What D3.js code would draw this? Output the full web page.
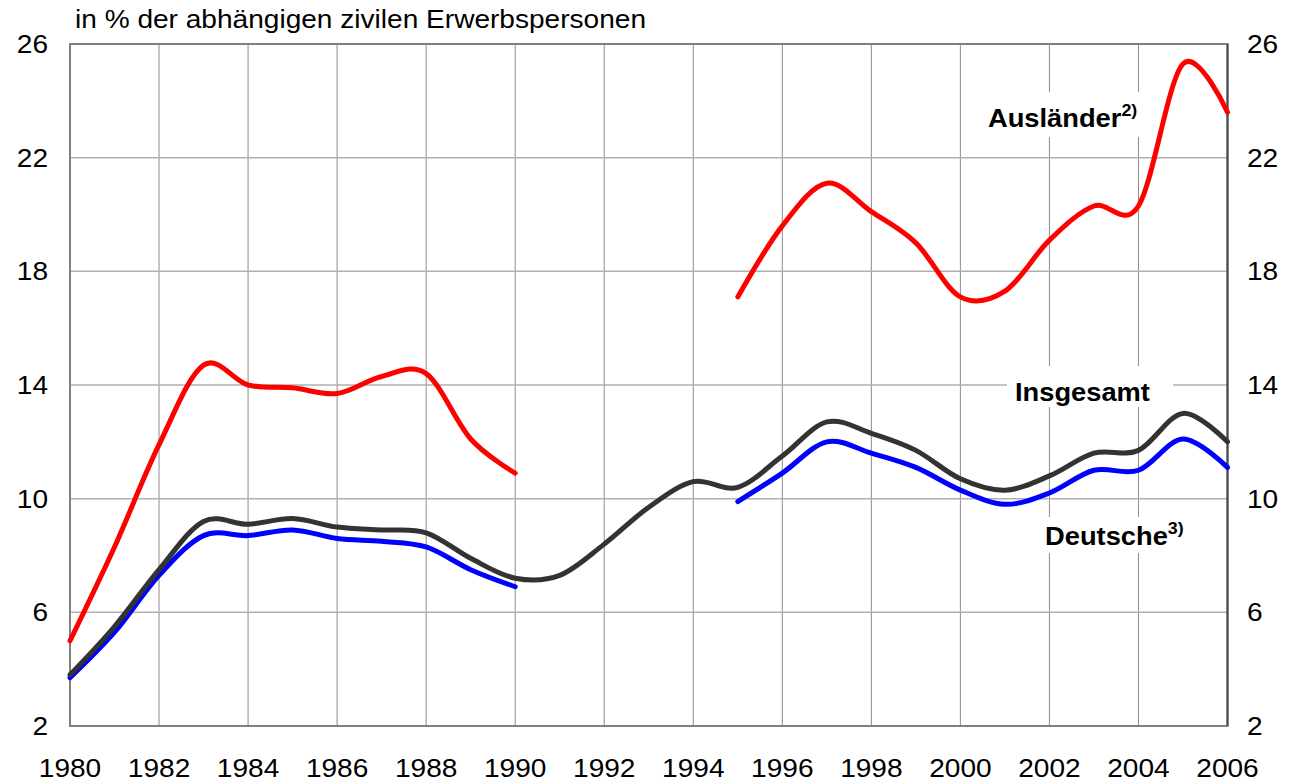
<!DOCTYPE html>
<html>
<head>
<meta charset="utf-8">
<script src="https://cdn.jsdelivr.net/npm/d3@7"></script>
<style>
  body { margin: 0; background: #fff; }
  text { font-family: "Liberation Sans", Arial, sans-serif; fill: #000; }
</style>
</head>
<body>
<svg id="chart" width="1289" height="782"></svg>
<script>
//////////////////////////////////////////////////////////////
// DATA //////////////////////////////////////////////////////
var years = [1980,1981,1982,1983,1984,1985,1986,1987,1988,1989,1990,1991,1992,
             1993,1994,1995,1996,1997,1998,1999,2000,2001,2002,2003,2004,2005,2006];
var insgesamt  = [3.8,5.5,7.5,9.2,9.1,9.3,9.0,8.9,8.8,7.9,7.2,7.3,8.4,
                  9.7,10.6,10.4,11.5,12.7,12.3,11.7,10.7,10.3,10.8,11.6,11.7,13.0,12.0];
var deutsche   = [3.7,5.3,7.3,8.7,8.7,8.9,8.6,8.5,8.3,7.5,6.9,null,null,
                  null,null,9.9,10.9,12.0,11.6,11.1,10.3,9.8,10.2,11.0,11.0,12.1,11.1];
var auslaender = [5.0,8.3,11.9,14.7,14.0,13.9,13.7,14.3,14.4,12.1,10.9,null,null,
                  null,null,17.1,19.6,21.1,20.1,19.0,17.1,17.3,19.1,20.3,20.3,25.3,23.6];
var yTicks = [2,6,10,14,18,22,26];
var xTicks = [1980,1982,1984,1986,1988,1990,1992,1994,1996,1998,2000,2002,2004,2006];

//////////////////////////////////////////////////////////////
// SETUP /////////////////////////////////////////////////////
var plotLeft = 70, plotRight = 1227.5, plotTop = 44, plotBottom = 726;
var svg = d3.select("#chart");
var xScale = d3.scaleLinear().domain([1980, 2006]).range([plotLeft, plotRight]);
var yScale = d3.scaleLinear().domain([2, 26]).range([plotBottom, plotTop]);

// text in the original is a bit wider than Arial, so stretch it
function placeText(sel, x, y, sx){
  sel.attr("transform", "translate(" + x + "," + y + ") scale(" + sx + ",1)");
  return sel;
}

// GRIDLINES
svg.append("g").selectAll("line.vgrid")
  .data(xTicks.filter(function(d){ return d > 1980 && d < 2006; }))
  .enter().append("line")
  .attr("x1", function(d){ return xScale(d); })
  .attr("x2", function(d){ return xScale(d); })
  .attr("y1", plotTop).attr("y2", plotBottom)
  .attr("stroke", "#8c8c8c").attr("stroke-width", 1);

svg.append("g").selectAll("line.hgrid")
  .data(yTicks.filter(function(d){ return d > 2 && d < 26; }))
  .enter().append("line")
  .attr("x1", plotLeft).attr("x2", plotRight)
  .attr("y1", function(d){ return yScale(d); })
  .attr("y2", function(d){ return yScale(d); })
  .attr("stroke", "#b0b0b0").attr("stroke-width", 1.5);

// FRAME
svg.append("rect")
  .attr("x", plotLeft).attr("y", plotTop)
  .attr("width", plotRight - plotLeft).attr("height", plotBottom - plotTop)
  .attr("fill", "none").attr("stroke", "#808080").attr("stroke-width", 2);
svg.append("line")
  .attr("x1", plotRight).attr("x2", plotRight).attr("y1", plotTop).attr("y2", plotBottom)
  .attr("stroke", "#4a4a4a").attr("stroke-width", 2);

// AXIS LABELS
yTicks.forEach(function(d){
  placeText(svg.append("text").text(d), 48, yScale(d) + 9, 1.08)
    .attr("text-anchor", "end").style("font-size", "26px");
  placeText(svg.append("text").text(d), 1247, yScale(d) + 9, 1.08)
    .attr("text-anchor", "start").style("font-size", "26px");
});
xTicks.forEach(function(d){
  placeText(svg.append("text").text(d), xScale(d), 777, 1.08)
    .attr("text-anchor", "middle").style("font-size", "26px");
});

placeText(svg.append("text").text("in % der abhängigen zivilen Erwerbspersonen"), 75, 28, 1.08)
  .style("font-size", "26px");

// SERIES LABELS (white boxes break the grid)
var seriesLabels = [
  {name: "Ausländer", sup: "2)", x: 988, y: 127, box: [980, 92, 1148, 137]},
  {name: "Insgesamt", sup: "",   x: 1015, y: 401, box: [1007, 366, 1173, 407]},
  {name: "Deutsche",  sup: "3)", x: 1045, y: 545, box: [1038, 517, 1193, 553]}
];
seriesLabels.forEach(function(l){
  svg.append("rect")
    .attr("x", l.box[0]).attr("y", l.box[1])
    .attr("width", l.box[2] - l.box[0]).attr("height", l.box[3] - l.box[1])
    .attr("fill", "#fff");
  var t = placeText(svg.append("text"), l.x, l.y, 1.05)
    .style("font-size", "26px").style("font-weight", "bold");
  t.append("tspan").text(l.name);
  if (l.sup){
    t.append("tspan").text(l.sup).attr("dy", -11).style("font-size", "17px");
  }
});

// LINES
function drawSeries(values, color){
  var line = d3.line()
    .defined(function(d){ return d != null; })
    .x(function(d, i){ return xScale(years[i]); })
    .y(function(d){ return yScale(d); })
    .curve(d3.curveCardinal.tension(0));
  svg.append("path")
    .datum(values)
    .attr("d", line)
    .attr("fill", "none")
    .attr("stroke", color)
    .attr("stroke-width", 5)
    .attr("stroke-linecap", "round")
    .attr("stroke-linejoin", "round");
}
drawSeries(auslaender, "#ff0000");
drawSeries(deutsche, "#0000ff");
drawSeries(insgesamt, "#333333");
</script>
</body>
</html>
